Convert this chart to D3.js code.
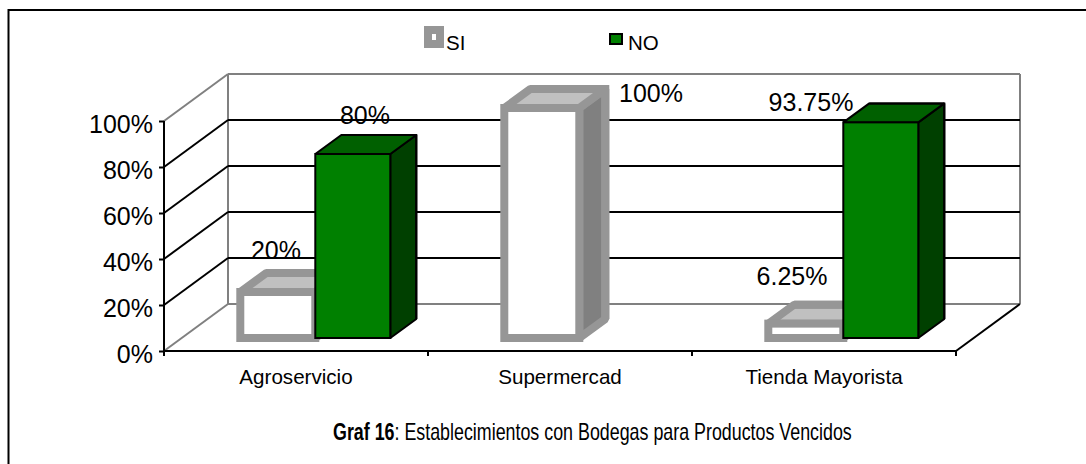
<!DOCTYPE html>
<html><head><meta charset="utf-8">
<script src="https://cdn.jsdelivr.net/npm/d3@7/dist/d3.min.js"></script>
<style>html,body{margin:0;padding:0;background:#fff}svg{display:block}text{font-family:"Liberation Sans",Arial,sans-serif;fill:#000}</style>
</head><body><div id="c"></div>
<script>
const categories = ["Agroservicio","Supermercad","Tienda Mayorista"];
const seriesNames = ["SI","NO"];
const siValues = [20,100,6.25];
const noValues = [80,0,93.75];
const siLabels = ["20%","100%","6.25%"];
const noLabels = ["80%","","93.75%"];
const yTicks = [0,20,40,60,80,100];

const W=1086,H=464;
const svg=d3.select("#c").append("svg").attr("width",W).attr("height",H);
svg.append("path").attr("d",`M8.5,${H}V10H${W}`).attr("fill","none").attr("stroke","#000").attr("stroke-width",2);

const y=d3.scaleLinear().domain([0,100]).range([351,121]);
const x=d3.scaleBand().domain(categories).range([164,956]);
const depth={x:64,y:-47};
const GRID="#000", WALL="#808080";
const line=(x1,y1,x2,y2,c,w)=>svg.append("line").attr("x1",x1).attr("y1",y1).attr("x2",x2).attr("y2",y2).attr("stroke",c).attr("stroke-width",w||2);
const x0=x.range()[0],x1=x.range()[1],yb=y(0),yt=y(100);

// walls
line(x0+depth.x,yb+depth.y,x1+depth.x,yb+depth.y,WALL);
line(x0+depth.x,yt+depth.y,x1+depth.x,yt+depth.y,WALL);
line(x0+depth.x,yb+depth.y,x0+depth.x,yt+depth.y,WALL);
line(x1+depth.x,yb+depth.y,x1+depth.x,yt+depth.y,WALL);
line(x0,yb,x0+depth.x,yb+depth.y,WALL);
line(x0,yt,x0+depth.x,yt+depth.y,WALL);
// gridlines
yTicks.filter(t=>t>0&&t<100).forEach(t=>{
  line(x0,y(t),x0+depth.x,y(t)+depth.y,GRID);
  line(x0+depth.x,y(t)+depth.y,x1+depth.x,y(t)+depth.y,GRID);
});
// floor front edge
line(x1,yb,x1+depth.x,yb+depth.y,GRID);

// axes
const gy=svg.append("g").attr("transform",`translate(${x0},0)`)
 .call(d3.axisLeft(y).tickValues(yTicks).tickSize(5).tickFormat(d=>d+"%"));
gy.selectAll("path,line").attr("stroke","#000").attr("stroke-width",2);
gy.select(".domain").attr("d",`M0,${yb}V${yt}`);
gy.selectAll("text").attr("font-size",25).attr("dy","0.36em").attr("x",-11).attr("y",2);
const gx=svg.append("g").attr("transform",`translate(0,${yb})`)
 .call(d3.axisBottom(x).tickSize(5));
gx.selectAll(".tick line").attr("transform",`translate(${-x.step()/2},0)`);
gx.append("line").attr("x1",x1).attr("x2",x1).attr("y1",0).attr("y2",5);
gx.select(".domain").attr("d",`M${x0},0H${x1}`).attr("stroke","#000").attr("stroke-width",2);
gx.selectAll("line").attr("stroke","#000").attr("stroke-width",2);
gx.selectAll("text").attr("font-size",20.6).attr("y",33).attr("dy",0);

// bars
const floorShift={x:18,y:-13};
const barGap=d3.scaleBand().domain(seriesNames).range([58.3,208.3]);
const barDepth={x:26,y:-19};
function bar(cat,ser,v,st){
  if(!v) return;
  const l=x(cat)+floorShift.x+barGap(ser), r=l+barGap.bandwidth();
  const b=y(0)+floorShift.y, t=y(v)+floorShift.y;
  const d=barDepth;
  const g=svg.append("g").attr("stroke",st.stroke).attr("stroke-width",st.w).attr("stroke-linejoin","bevel");
  g.append("path").attr("d",`M${r},${b}L${r+d.x},${b+d.y}V${t+d.y}L${r},${t}Z`).attr("fill",st.side);
  g.append("path").attr("d",`M${l},${t}L${l+d.x},${t+d.y}H${r+d.x}L${r},${t}Z`).attr("fill",st.top);
  g.append("path").attr("d",`M${l+d.x},${t+d.y}H${r+d.x}V${b+d.y}`).attr("fill","none").attr("stroke-linejoin","miter");
  g.append("rect").attr("x",l).attr("y",t).attr("width",r-l).attr("height",b-t).attr("fill",st.front).attr("stroke-linejoin","miter");
}
const siStyle={stroke:"#969696",w:8,front:"#fff",top:"#c0c0c0",side:"#808080"};
const noStyle={stroke:"#000",w:2,front:"#008000",top:"#006000",side:"#004000"};
categories.forEach((c,i)=>{bar(c,"SI",siValues[i],siStyle);bar(c,"NO",noValues[i],noStyle);});

// data labels
const lblPos={SI:[[276,250],[651,93],[792,276]],NO:[[365,115],null,[811,102]]};
const lab=(t,p)=>svg.append("text").attr("x",p[0]).attr("y",p[1]).attr("text-anchor","middle").attr("dy","0.36em").attr("font-size",25).text(t);
siLabels.forEach((t,i)=>lab(t,lblPos.SI[i]));
noLabels.forEach((t,i)=>{if(t)lab(t,lblPos.NO[i])});

// legend
svg.append("rect").attr("x",424).attr("y",26).attr("width",20).attr("height",22).attr("fill","#969696");
svg.append("rect").attr("x",432).attr("y",34).attr("width",4).attr("height",6).attr("fill","#fff");
svg.append("text").attr("x",446).attr("y",50).attr("font-size",20.5).text(seriesNames[0]);
svg.append("rect").attr("x",610).attr("y",34).attr("width",12).attr("height",10).attr("fill","#008000").attr("stroke","#000").attr("stroke-width",2);
svg.append("text").attr("x",628).attr("y",50).attr("font-size",20.5).text(seriesNames[1]);

// caption
const cap=svg.append("text").attr("x",0).attr("y",0).attr("font-size",23);
cap.append("tspan").attr("font-weight","bold").text("Graf 16");
cap.append("tspan").text(": Establecimientos con Bodegas para Productos Vencidos");
const capW=cap.node().getComputedTextLength();
cap.attr("transform",`translate(333,440) scale(${519/capW},1)`);
</script></body></html>
